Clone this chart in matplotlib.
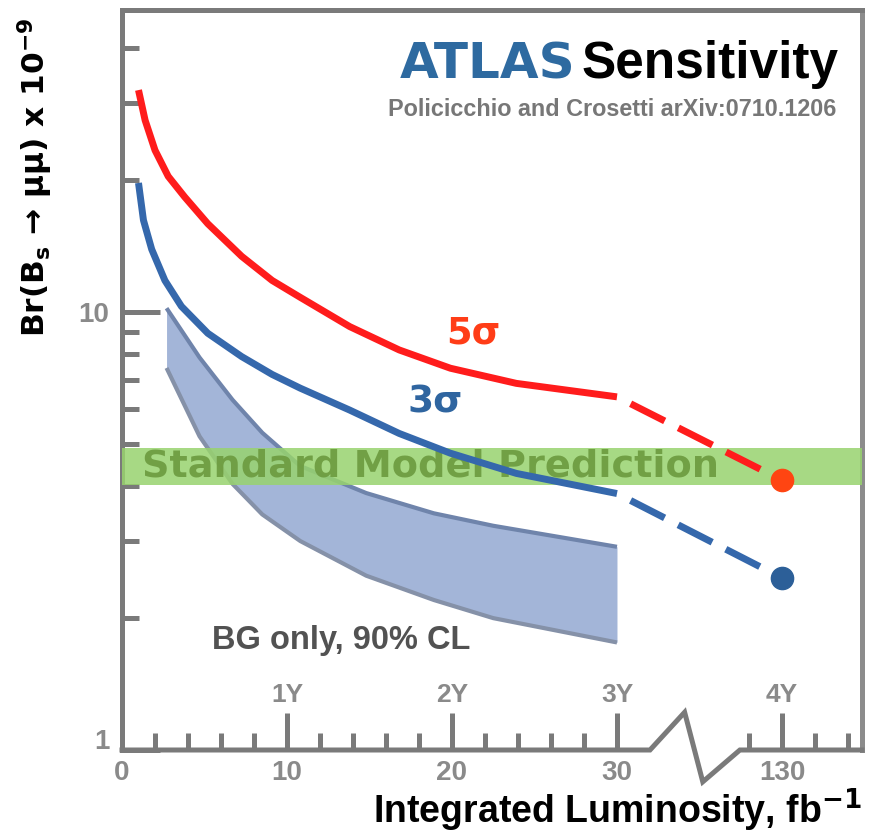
import numpy as np
import matplotlib
matplotlib.use("Agg")
import matplotlib.pyplot as plt
import matplotlib.transforms as mtransforms
from matplotlib.ticker import FixedLocator, NullFormatter

# ---- data -------------------------------------------------------------
# 5 sigma discovery curve (integrated luminosity fb^-1, Br x 1e-9)
lumi_5s = [1.0, 1.4, 2.0, 2.8, 3.8, 5.2, 7.25, 9.1, 10.8, 13.8, 16.8, 19.9, 23.9, 30.0]
br_5s = [32.1, 27.4, 23.4, 20.4, 18.3, 15.9, 13.4, 11.8, 10.8, 9.26, 8.19, 7.44, 6.87, 6.40]

# 3 sigma evidence curve
lumi_3s = [1.0, 1.3, 1.8, 2.6, 3.6, 5.2, 7.25, 9.1, 10.8, 13.8, 16.8, 19.9, 23.9, 30.0]
br_3s = [19.7, 16.2, 13.9, 11.8, 10.3, 8.94, 7.91, 7.2, 6.7, 5.97, 5.28, 4.76, 4.28, 3.85]

# extrapolation to the high-luminosity point
lumi_ext = [30.0, 130.0]
br_5s_ext = [6.40, 4.13]
br_3s_ext = [3.85, 2.47]

# background-only 90% CL exclusion band
lumi_bg = [2.7, 4.7, 6.7, 8.5, 10.8, 14.8, 18.9, 22.5, 30.0]
bg_upper = [10.2, 7.87, 6.3, 5.3, 4.45, 3.86, 3.47, 3.25, 2.91]
bg_lower = [7.45, 5.2, 4.05, 3.45, 3.0, 2.5, 2.2, 2.0, 1.76]

# Standard Model prediction band
sm_low, sm_high = 4.03, 4.89

x_major = [0, 10, 20, 30, 130]
x_major_labels = ["0", "10", "20", "30", "130"]
x_minor = [2, 4, 6, 8, 12, 14, 16, 18, 22, 24, 26, 28, 128, 132, 134]
year_ticks = [10, 20, 30, 130]
year_labels = ["1Y", "2Y", "3Y", "4Y"]
y_major = [1, 10]
y_major_labels = ["1", "10"]
y_minor = [2, 3, 4, 5, 6, 7, 8, 9, 20, 30, 40]

# ---- broken luminosity axis ----------------------------------------------
GAP_LO, GAP_HI, GAP_W = 30.0, 126.0, 6.0


def fwd(x):
    x = np.asarray(x, dtype=float)
    return np.where(x <= GAP_LO, x,
                    np.where(x >= GAP_HI, x - (GAP_HI - GAP_LO - GAP_W),
                             GAP_LO + (x - GAP_LO) * GAP_W / (GAP_HI - GAP_LO)))


def inv(p):
    p = np.asarray(p, dtype=float)
    return np.where(p <= GAP_LO, p,
                    np.where(p >= GAP_LO + GAP_W, p + (GAP_HI - GAP_LO - GAP_W),
                             GAP_LO + (p - GAP_LO) * (GAP_HI - GAP_LO) / GAP_W))


AXIS_GRAY = "#7a7a7a"
LABEL_GRAY = "#8a8a8a"
RED = "#ff1c1c"
BLUE = "#3568ac"
BAND_FILL = "#a3b5d8"
SM_GREEN = "#98d36e"
SM_TEXT = "#6c9a3f"
SANS = ["Liberation Sans", "DejaVu Sans"]
WIDE = ["DejaVu Sans"]

plt.rcParams["font.family"] = SANS
plt.rcParams["mathtext.fontset"] = "dejavusans"
plt.rcParams["mathtext.default"] = "bf"

fig = plt.figure(figsize=(8.71, 8.38), dpi=100)
ax = fig.add_axes([122 / 871, 1 - 750 / 838, 740 / 871, 740 / 838])
ax.set_xscale("function", functions=(fwd, inv))
ax.set_yscale("log")
ax.set_xlim(0, 134.85)
ax.set_ylim(1, 48.9)

# SM band
ax.axhspan(sm_low, sm_high, color=SM_GREEN, alpha=0.85, lw=0, zorder=3)
ax.text(1.2, np.sqrt(sm_low * sm_high), "Standard Model Prediction",
        color=SM_TEXT, fontsize=27.5, fontweight="bold", va="center",
        ha="left", family=WIDE, alpha=0.9, zorder=3.5)

# background-only band
ax.fill_between(lumi_bg, bg_lower, bg_upper, color=BAND_FILL, lw=0, zorder=2)
ax.plot(lumi_bg, bg_upper, color="#6f84ab", lw=3, zorder=2.2,
        solid_capstyle="butt")
ax.plot(lumi_bg, bg_lower, color="#8591a8", lw=3, zorder=2.2,
        solid_capstyle="butt")

# sensitivity curves
ax.plot(lumi_5s, br_5s, color=RED, lw=5, zorder=4, solid_capstyle="butt")
ax.plot(lumi_3s, br_3s, color=BLUE, lw=5, zorder=4, solid_capstyle="butt")
dash = (5.5, (5.5, 2.2))
ax.plot(lumi_ext, br_5s_ext, color=RED, lw=5, ls=dash, zorder=4,
        dash_capstyle="butt")
ax.plot(lumi_ext, br_3s_ext, color=BLUE, lw=5, ls=dash, zorder=4,
        dash_capstyle="butt")
ax.plot(lumi_ext[1:], br_5s_ext[1:], "o", color="#ff4512", ms=16, zorder=5)
ax.plot(lumi_ext[1:], br_3s_ext[1:], "o", color="#2c5f98", ms=16, zorder=5)

ax.text(21.3, 8.94, "5σ", color="#ff3d17", fontsize=26.5, fontweight="bold",
        ha="center", va="center", family=WIDE)
ax.text(19.0, 6.2, "3σ", color="#2f65a0", fontsize=27, fontweight="bold",
        ha="center", va="center", family=WIDE)
ax.text(13.3, 1.78, "BG only, 90% CL", color="#525252", fontsize=23.5,
        fontweight="bold", ha="center", va="center")

# title block
ax.text(0.612, 0.927, "ATLAS", color="#2e6aa0", fontsize=36,
        fontweight="bold", family=WIDE, transform=ax.transAxes,
        ha="right", va="center")
ax.text(0.968, 0.927, "Sensitivity", color="black", fontsize=37,
        fontweight="bold", transform=ax.transAxes, ha="right", va="center")
ax.text(0.966, 0.865, "Policicchio and Crosetti arXiv:0710.1206",
        color="#777777", fontsize=16.8, fontweight="bold",
        transform=ax.transAxes, ha="right", va="center")

# axes styling
for side in ("left", "top", "right"):
    ax.spines[side].set_color(AXIS_GRAY)
    ax.spines[side].set_linewidth(3.6)
ax.spines["right"].set_color("#8c8c8c")
ax.spines["bottom"].set_visible(False)

# bottom axis line with the zig-zag break
p0 = fwd(GAP_LO) / 44.85
seg_x = [0, p0, 32.0 / 44.85, 34.1 / 44.85, 35.2 / 44.85, 37.45 / 44.85, 1.0]
seg_y = [0, 0, 0, 0.051, -0.043, 0, 0]
ax.plot(seg_x, seg_y, color=AXIS_GRAY, lw=3.6, transform=ax.transAxes,
        clip_on=False, zorder=6, solid_joinstyle="miter",
        solid_capstyle="projecting")

ax.xaxis.set_major_locator(FixedLocator(x_major))
ax.xaxis.set_minor_locator(FixedLocator(x_minor))
ax.set_xticklabels(x_major_labels)
ax.xaxis.set_minor_formatter(NullFormatter())
ax.yaxis.set_major_locator(FixedLocator(y_major))
ax.yaxis.set_minor_locator(FixedLocator(y_minor))
ax.set_yticklabels(y_major_labels)
ax.yaxis.set_minor_formatter(NullFormatter())

ax.tick_params(axis="both", which="major", direction="in", length=27,
               width=3.6, color=AXIS_GRAY, labelcolor=LABEL_GRAY,
               labelsize=20)
ax.tick_params(axis="both", which="minor", direction="in", length=12.5,
               width=3.6, color=AXIS_GRAY)
ax.tick_params(axis="x", which="major", pad=7)
ax.tick_params(axis="y", which="major", pad=9)
ax.tick_params(top=False, right=False, which="both")
for lab in ax.get_xticklabels() + ax.get_yticklabels():
    lab.set_fontweight("bold")

# lift the "1" label slightly above the corner
one = ax.yaxis.get_major_ticks()[0].label1
one.set_transform(one.get_transform()
                  + mtransforms.ScaledTranslation(0, 8 / 72, fig.dpi_scale_trans))

for xv, lab in zip(year_ticks, year_labels):
    ax.text(xv, 0.074, lab, transform=ax.get_xaxis_transform(),
            color=LABEL_GRAY, fontsize=19, fontweight="bold",
            ha="center", va="center")

xl = ax.set_xlabel("Integrated Luminosity, fb$^{-1}$", fontsize=27,
                   fontweight="bold", color="black")
xl.set_va("baseline")
ax.xaxis.set_label_coords(0.669, -0.099)
ax.set_ylabel("Br(B$_{s}$ → μμ) x 10$^{-9}$", fontsize=22.5,
              fontweight="bold", color="black", family=WIDE)
ax.yaxis.set_label_coords(-0.09, 0.774)

fig.savefig("out.png", dpi=100)
